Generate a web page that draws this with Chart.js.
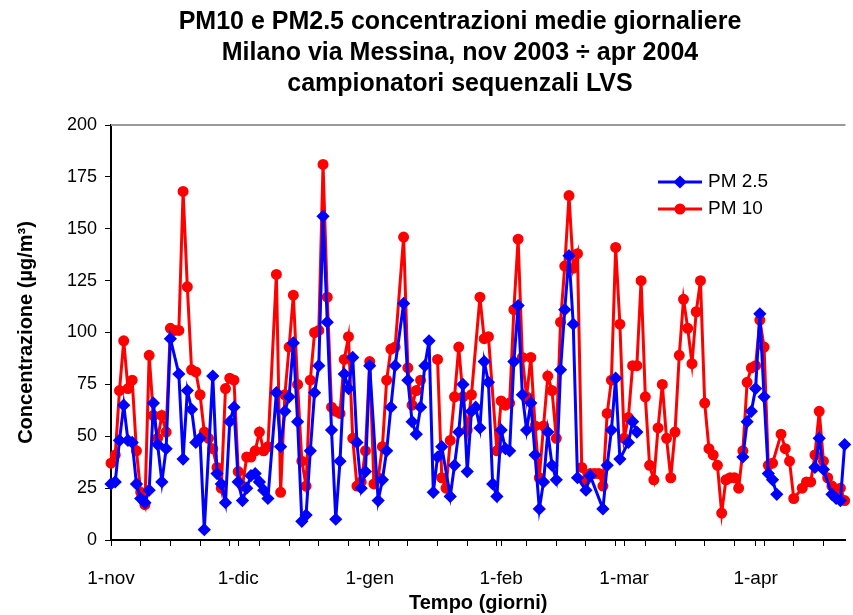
<!DOCTYPE html>
<html lang="it">
<head>
    <meta charset="UTF-8">
    <title>PM10 e PM2.5 - Milano via Messina</title>
    <script src="https://cdn.jsdelivr.net/npm/chart.js"></script>
    <style>
        html, body {
            margin: 0;
            padding: 0;
            background: #fff;
            overflow: hidden;
        }
        #wrap {
            width: 853px;
            height: 615px;
        }
    </style>
</head>
<body>
    <div id="wrap"><canvas id="pmChart" width="853" height="615"></canvas></div>

    <script>
        const titleLines = [
            'PM10 e PM2.5 concentrazioni medie giornaliere',
            'Milano via Messina, nov 2003 \u00f7 apr 2004',
            'campionatori sequenzali LVS'
        ];
        const seriesNames = ['PM 2.5', 'PM 10'];

        // day index 0 = 1 nov 2003
        const monthTicks = [0, 30, 61, 92, 121, 152];
        const monthLabels = ['1-nov', '1-dic', '1-gen', '1-feb', '1-mar', '1-apr'];
        const weekTicks = [7, 14, 21, 28, 35, 42, 49, 56, 63, 70, 77, 84, 91, 98, 105, 112, 119, 126, 133, 140, 147, 154, 161, 168];

        // daily means, µg/m³ (null = no sample)
        const pm25 = [
            27, 28, 48, 65, 48, 47, 27, 20, 18, 24,
            66, 46, 28, 44, 97, null, 80, 39, 72, 63,
            47, 49, 5, null, 79, 32, 27, 18, 57, 64,
            28, 19, 25, 31, 32, 28, 24, 20, null, 71,
            45, 62, 69, 95, 57, 9, 12, 43, 71, 84,
            156, 105, 53, 10, 38, 80, 73, 88, 47, 25,
            33, 84, null, 19, 29, 43, 64, 84, null, 114,
            77, 57, 51, 64, 84, 96, 23, 40, 45, null,
            21, 36, 52, 75, 33, 62, 64, 54, 86, 76,
            27, 21, 53, 44, 43, 86, 113, 70, 53, 66,
            41, 15, 28, 52, 36, 29, 82, 111, 137, 104,
            30, null, 24, 31, null, null, 15, 36, 53, 78,
            39, null, 47, 57, 52, null, null, null, null, null,
            null, null, null, null, null, null, null, null, null, null,
            null, null, null, null, null, null, null, null, null, 40,
            57, 62, 73, 109, 69, 32, 29, 22, null, null,
            null, null, null, null, null, null, 35, 49, 34, null,
            22, 20, 19, 46
        ];
        const pm10 = [
            37, 41, 72, 96, 73, 77, 43, 23, 17, 89,
            60, 49, 60, 52, 102, 101, 101, 168, 122, 82,
            81, 70, 52, 49, 44, 35, 25, 73, 78, 77,
            33, 26, 40, 40, 43, 52, 43, 45, null, 128,
            23, 70, 93, 118, 75, 38, 26, 77, 100, 101,
            181, 117, 64, 62, 61, 87, 98, 49, 26, 28,
            43, 86, 27, 30, 45, 77, 92, 93, null, 146,
            83, 65, 72, 77, null, null, null, 87, 30, 25,
            48, 69, 93, 69, 53, 70, null, 117, 97, 98,
            null, 43, 67, 65, 66, 111, 145, 88, 69, 88,
            55, 30, 55, 79, 72, 49, 105, 132, 166, 131,
            138, 35, 29, 32, 32, 32, 26, 61, 77, 141,
            104, 49, 59, 84, 84, 125, 69, 36, 29, 54,
            75, 49, 30, 52, 89, 116, 102, 85, 110, 125,
            66, 44, 41, 36, 13, 29, 30, 30, 25, 43,
            76, 83, 84, 106, 93, 36, 37, null, 51, 44,
            38, 20, null, 25, 28, 28, 41, 62, 38, 30,
            26, 24, 25, 19
        ];

        function toPoints(values) {
            return values
                .map((v, i) => ({ x: i, y: v }))
                .filter(p => p.y !== null);
        }

        Chart.defaults.font.family = '"Liberation Sans", Arial, sans-serif';
        Chart.defaults.color = '#000';

        // title, top frame line and in-plot legend
        const frameAndText = {
            id: 'frameAndText',
            beforeDatasetsDraw(chart) {
                const { ctx, chartArea } = chart;
                ctx.save();
                ctx.strokeStyle = '#9a9a9a';
                ctx.lineWidth = 2;
                ctx.beginPath();
                ctx.moveTo(chartArea.left, chartArea.top);
                ctx.lineTo(chartArea.right, chartArea.top);
                ctx.stroke();
                ctx.restore();
            },
            afterDraw(chart) {
                const { ctx, chartArea } = chart;
                ctx.save();
                ctx.fillStyle = '#000';
                ctx.textAlign = 'center';
                ctx.textBaseline = 'middle';
                ctx.font = 'bold 25px "Liberation Sans", Arial, sans-serif';
                titleLines.forEach((t, i) => ctx.fillText(t, 460, 22 + i * 31));

                ctx.font = '19px "Liberation Sans", Arial, sans-serif';
                ctx.textAlign = 'left';
                const lx = chartArea.left + 547;
                chart.data.datasets.forEach((ds, i) => {
                    const y = 182 + i * 27;
                    ctx.strokeStyle = ds.borderColor;
                    ctx.fillStyle = ds.borderColor;
                    ctx.lineWidth = ds.borderWidth;
                    ctx.beginPath();
                    ctx.moveTo(lx, y);
                    ctx.lineTo(lx + 44, y);
                    ctx.stroke();
                    Chart.helpers.drawPoint(ctx, {
                        pointStyle: ds.pointStyle,
                        radius: ds.pointRadius,
                        rotation: 0,
                        borderWidth: 1
                    }, lx + 22, y);
                    ctx.fillStyle = '#000';
                    ctx.fillText(ds.label, lx + 50, y);
                });
                ctx.restore();
            }
        };

        const ctx = document.getElementById('pmChart').getContext('2d');

        new Chart(ctx, {
            type: 'line',
            data: {
                datasets: [
                    {
                        label: seriesNames[0],
                        data: toPoints(pm25),
                        borderColor: '#0000ff',
                        backgroundColor: '#0000ff',
                        pointBackgroundColor: '#0000ff',
                        pointBorderColor: '#0000ff',
                        pointStyle: 'rectRot',
                        pointRadius: 4.5,
                        borderWidth: 3,
                        spanGaps: 3,
                        clip: false
                    },
                    {
                        label: seriesNames[1],
                        data: toPoints(pm10),
                        borderColor: '#ff0000',
                        backgroundColor: '#ff0000',
                        pointBackgroundColor: '#ff0000',
                        pointBorderColor: '#ff0000',
                        pointStyle: 'circle',
                        pointRadius: 4,
                        borderWidth: 3,
                        spanGaps: 3,
                        clip: false
                    }
                ]
            },
            options: {
                responsive: false,
                animation: false,
                layout: {
                    padding: { top: 125, left: 0, right: 0, bottom: 0 }
                },
                plugins: {
                    legend: { display: false },
                    title: { display: false },
                    tooltip: { enabled: false }
                },
                scales: {
                    x: {
                        type: 'linear',
                        min: 0,
                        max: 173.2,
                        afterFit(scale) {
                            scale.height = 75;
                        },
                        afterBuildTicks(scale) {
                            scale.ticks = monthTicks.concat(weekTicks)
                                .sort((a, b) => a - b)
                                .map(v => ({ value: v }));
                        },
                        ticks: {
                            autoSkip: false,
                            maxRotation: 0,
                            padding: 21,
                            font: { size: 19 },
                            callback(value) {
                                const k = monthTicks.indexOf(value);
                                return k >= 0 ? monthLabels[k] : '';
                            }
                        },
                        grid: {
                            drawOnChartArea: false,
                            drawTicks: true,
                            tickLength: 6,
                            color: '#000'
                        },
                        border: { color: '#000', width: 2 },
                        title: {
                            display: true,
                            text: 'Tempo (giorni)',
                            font: { size: 20, weight: 'bold' },
                            padding: { top: 0, bottom: 0 }
                        }
                    },
                    y: {
                        min: 0,
                        max: 200,
                        afterFit(scale) {
                            scale.width = 111;
                        },
                        ticks: {
                            stepSize: 25,
                            padding: 8,
                            font: { size: 18 }
                        },
                        grid: {
                            drawOnChartArea: false,
                            drawTicks: true,
                            tickLength: 6,
                            color: '#000'
                        },
                        border: { color: '#000', width: 2 },
                        title: {
                            display: true,
                            text: 'Concentrazione (\u00b5g/m\u00b3)',
                            font: { size: 20, weight: 'bold' },
                            padding: { top: 14, bottom: 0 }
                        }
                    }
                }
            },
            plugins: [frameAndText]
        });
    </script>
</body>
</html>
